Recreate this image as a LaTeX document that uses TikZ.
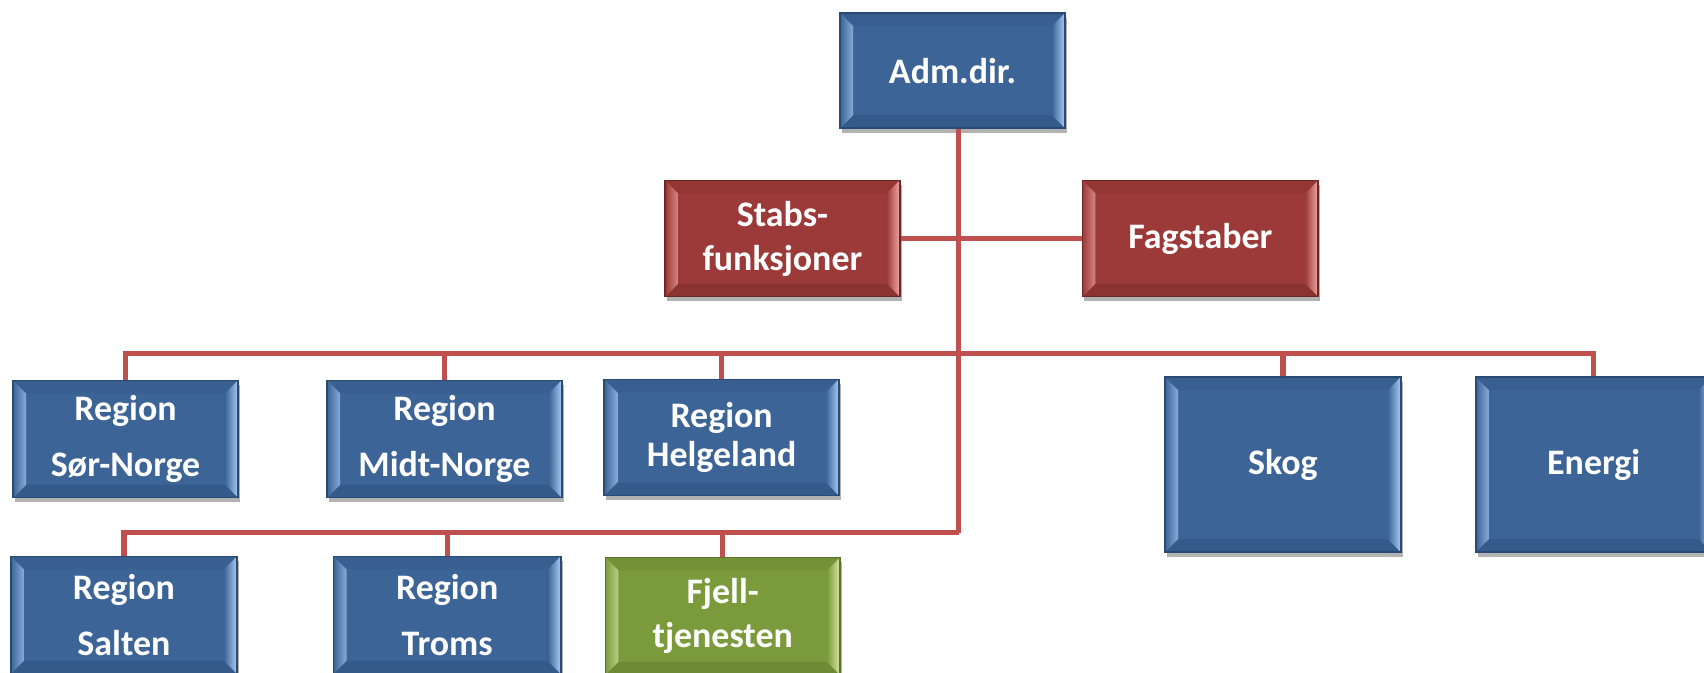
\documentclass[tikz,border=0pt]{standalone}
\usepackage{fontspec}
\setmainfont{Carlito}
\usetikzlibrary{calc,shadows}

\definecolor{bluface}{HTML}{3C6496}
\definecolor{bluedge}{HTML}{2A4A72}
\definecolor{blulite}{HTML}{A9CBF5}
\definecolor{blutop}{HTML}{385F8F}
\definecolor{blubot}{HTML}{335A88}
\definecolor{redface}{HTML}{9B3A38}
\definecolor{rededge}{HTML}{6E2725}
\definecolor{redlite}{HTML}{F0A8A6}
\definecolor{redtop}{HTML}{933634}
\definecolor{redbot}{HTML}{8A3331}
\definecolor{grnface}{HTML}{7B9A3C}
\definecolor{grnedge}{HTML}{5A7229}
\definecolor{grnlite}{HTML}{D8E6A2}
\definecolor{grntop}{HTML}{759238}
\definecolor{grnbot}{HTML}{6E8A34}
\definecolor{linkred}{HTML}{C0504D}

\newcommand\bv{0.24cm}
\newcommand\bevel[1]{%
  \coordinate (bvnw) at (path picture bounding box.north west);
  \coordinate (bvne) at (path picture bounding box.north east);
  \coordinate (bvsw) at (path picture bounding box.south west);
  \coordinate (bvse) at (path picture bounding box.south east);
  \fill[#1top] (bvnw) -- (bvne) -- ($(bvne)+(-\bv,-\bv)$) -- ($(bvnw)+(\bv,-\bv)$) -- cycle;
  \fill[#1bot] (bvsw) -- (bvse) -- ($(bvse)+(-\bv,\bv)$) -- ($(bvsw)+(\bv,\bv)$) -- cycle;
  \fill[left color=#1face, right color=#1lite!70!#1face] (bvsw) -- (bvnw) -- ($(bvnw)+(\bv,-\bv)$) -- ($(bvsw)+(\bv,\bv)$) -- cycle;
  \fill[left color=#1face, right color=#1lite] (bvse) -- (bvne) -- ($(bvne)+(-\bv,-\bv)$) -- ($(bvse)+(-\bv,\bv)$) -- cycle;
}

\begin{document}
\begin{tikzpicture}[x=0.02cm, y=-0.02cm,
orgbox/.style={rectangle, inner sep=0pt, align=center, text=white,
  font=\fontsize{18.8}{23}\selectfont\bfseries,
  draw=#1edge, line width=0.8pt, fill=#1face,
  drop shadow={shadow xshift=1pt, shadow yshift=-2.5pt, opacity=0.3, fill=black},
  path picture={\bevel{#1}}},
boxsize/.style 2 args={minimum width=#1cm, minimum height=#2cm},
conn/.style={draw=linkred, line width=2.8pt},
]
\useasboundingbox (0,0) rectangle (1568,619);

\coordinate (bus1) at (882,325);
\coordinate (bus2) at (882,490);

\node[orgbox=blu, boxsize={4.14}{2.12}] (adm) at (876.5,65) {Adm.dir.};
\node[orgbox=red, boxsize={4.32}{2.14}] (stabs) at (720,219.5) {Stabs-\\funksjoner};
\node[orgbox=red, boxsize={4.34}{2.14}] (fag) at (1104.5,219.5) {Fagstaber};

\node[orgbox=blu, boxsize={4.14}{2.16}] (sor) at (115.5,404) {Region\\[6.6pt]Sør-Norge};
\node[orgbox=blu, boxsize={4.32}{2.16}] (midt) at (409,404) {Region\\[6.6pt]Midt-Norge};
\node[orgbox=blu, boxsize={4.32}{2.14}] (helg) at (664,402.5) {Region\\[-3pt]Helgeland};
\node[orgbox=blu, boxsize={4.34}{3.22}] (skog) at (1180.5,427.5) {Skog};
\node[orgbox=blu, boxsize={4.34}{3.22}] (energi) at (1466.5,427.5) {Energi};

\node[orgbox=blu, boxsize={4.16}{2.16}] (salten) at (114,566) {Region\\[6.6pt]Salten};
\node[orgbox=blu, boxsize={4.18}{2.16}] (troms) at (411.5,566) {Region\\[6.6pt]Troms};
\node[orgbox=grn, boxsize={4.32}{2.16}] (fjell) at (665,567) {Fjell-\\tjenesten};

\draw[conn] (adm.south -| bus2) -- (bus2);
\draw[conn] (stabs.east) -- (fag.west);
\draw[conn] (sor.north) |- (energi.north |- bus1) -- (energi.north);
\foreach \n in {midt,helg,skog}
  \draw[conn] (\n.north) -- (\n.north |- bus1);
\draw[conn] (salten.north) |- (bus2);
\foreach \n in {troms,fjell}
  \draw[conn] (\n.north) -- (\n.north |- bus2);
\end{tikzpicture}
\end{document}
